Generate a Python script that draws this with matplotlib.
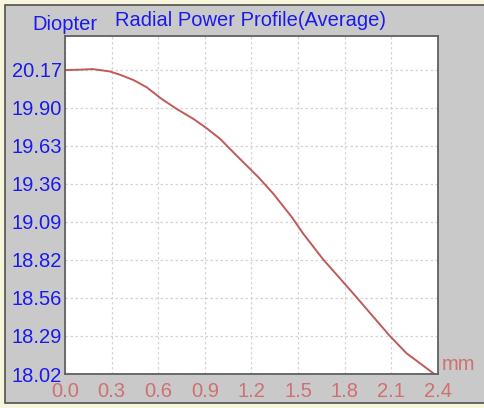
import matplotlib
matplotlib.use("Agg")
import matplotlib.pyplot as plt
from matplotlib.patches import Rectangle
import numpy as np

plt.rcParams["font.family"] = ["Liberation Sans", "DejaVu Sans"]

# radial position (mm) and power (diopter)
radius = [0.0, 0.10, 0.18, 0.225, 0.29, 0.354, 0.44, 0.526, 0.622, 0.719,
          0.826, 0.912, 0.998, 1.083, 1.169, 1.244, 1.34, 1.459, 1.533,
          1.662, 1.77, 1.877, 1.984, 2.091, 2.198, 2.241, 2.37]
power = [20.169, 20.172, 20.176, 20.169, 20.159, 20.136, 20.099, 20.047,
         19.965, 19.894, 19.824, 19.757, 19.683, 19.588, 19.494, 19.412,
         19.295, 19.130, 19.012, 18.829, 18.695, 18.561, 18.424, 18.288,
         18.166, 18.131, 18.025]

x_ticks = [0.0, 0.3, 0.6, 0.9, 1.2, 1.5, 1.8, 2.1, 2.4]
x_labels = ["0.0", "0.3", "0.6", "0.9", "1.2", "1.5", "1.8", "2.1", "2.4"]
y_ticks = list(np.linspace(18.02, 20.17, 9))
y_labels = ["18.02", "18.29", "18.56", "18.82", "19.09", "19.36", "19.63", "19.90", "20.17"]

fig = plt.figure(figsize=(4.85, 4.08), dpi=100, facecolor="#f7f5dc")

# gray panel behind the chart
fig.patches.append(Rectangle((5 / 485, 1 - 403 / 408), 1.0, 398 / 408,
                             transform=fig.transFigure, facecolor="#c9c9c9",
                             edgecolor="#505050", linewidth=1.2, zorder=-1))

ax = fig.add_axes([65 / 485, 1 - 374 / 408, 373 / 485, 338 / 408])
ax.set_facecolor("white")
ax.plot(radius, power, color="#c05a5a", linewidth=1.4)

ax.set_xlim(0, 2.4)
ax.set_ylim(18.02, 20.41)
ax.set_xticks(x_ticks)
ax.set_xticklabels(x_labels)
ax.set_yticks(y_ticks)
ax.set_yticklabels(y_labels)
ax.tick_params(axis="x", length=0, pad=6, labelsize=14.5, labelcolor="#d07070")
ax.tick_params(axis="y", length=0, pad=2, labelsize=14.5, labelcolor="#1a1aee")
ax.grid(True, color="#d4d4d4", linestyle=(0, (2, 2)), linewidth=0.9)
for s in ax.spines.values():
    s.set_color("#606060")
    s.set_linewidth(1.3)

fig.text(32 / 485, 1 - 24 / 408, "Diopter", color="#1a1aee", fontsize=14.5, va="center")
fig.text(115 / 485, 1 - 21 / 408, "Radial Power Profile(Average)", color="#1a1aee",
         fontsize=14.5, va="center")
fig.text(442 / 485, 1 - 365 / 408, "mm", color="#d07070", fontsize=14.5, va="center")

fig.savefig("out.png", dpi=100, facecolor=fig.get_facecolor())
